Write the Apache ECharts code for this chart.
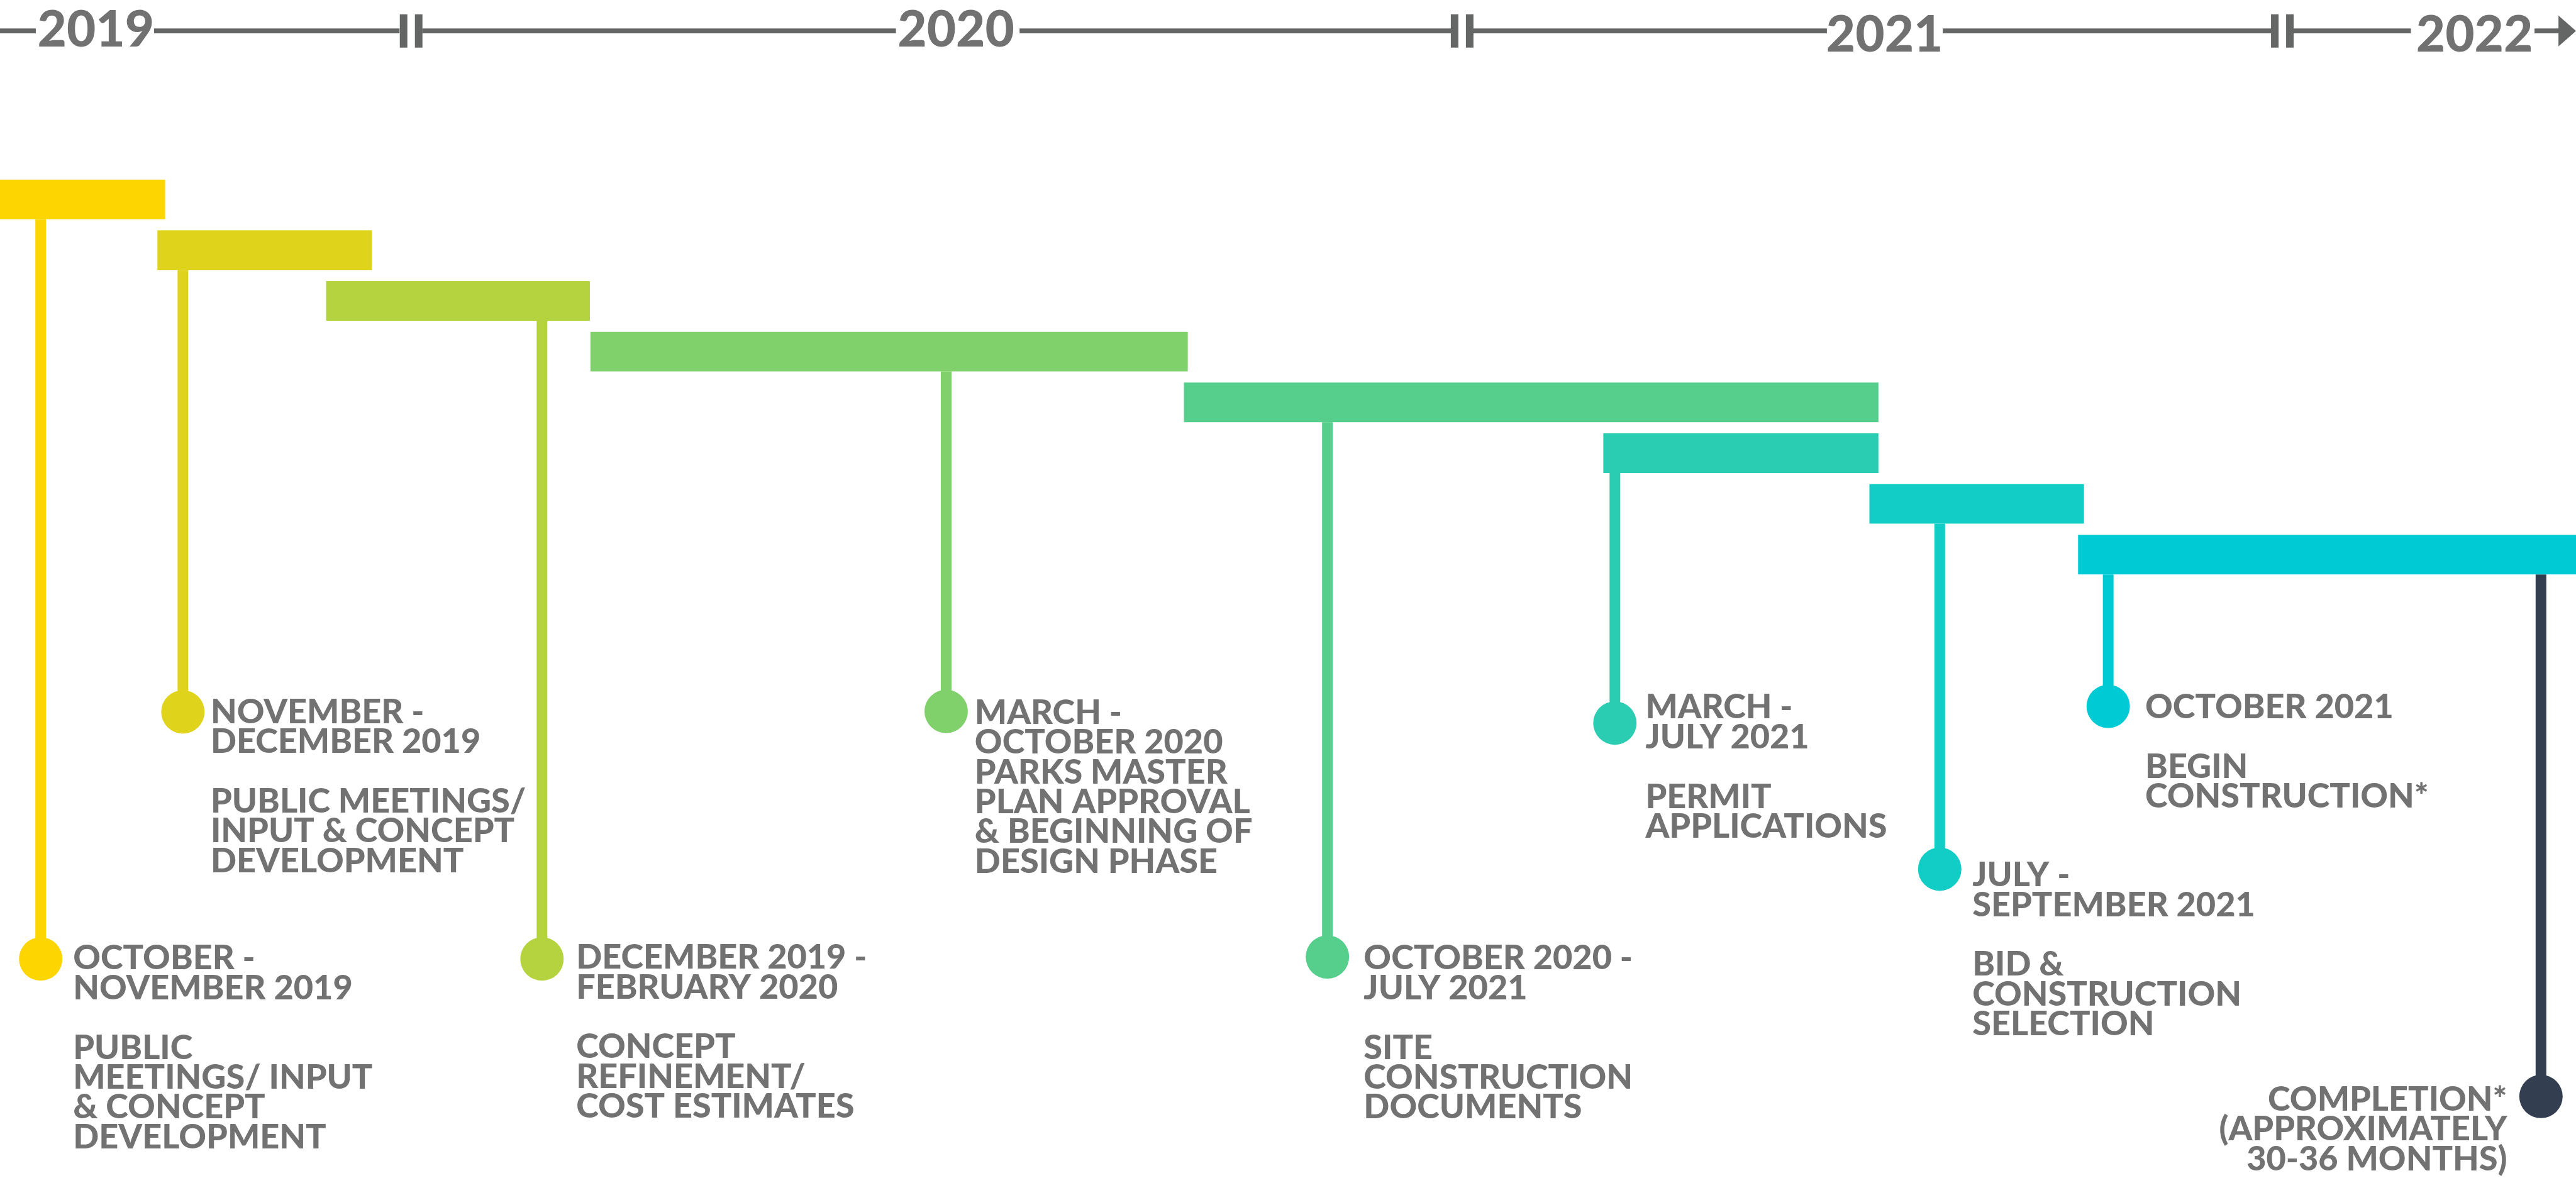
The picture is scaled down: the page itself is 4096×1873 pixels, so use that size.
<!DOCTYPE html>
<html>
<head>
<meta charset="utf-8">
<title>Project timeline</title>
<script src="https://cdn.jsdelivr.net/npm/echarts@6/dist/echarts.min.js"></script>
<style>
  html, body { margin: 0; padding: 0; background: #fff; }
  #chart { width: 4096px; height: 1873px; }
</style>
</head>
<body>
<div id="chart"></div>
<script>
// Schematic timeline: x = % of timeline width, y = bar rows (row 0 = first bar).
const X_MIN = 0, X_MAX = 100;
const Y_MIN = -3.931, Y_MAX = 19.287;

// top axis
const YEARS       = ["2019", "2020", "2021", "2022"];
const YEAR_X      = [3.72, 37.11, 73.16, 96.06];
const YEAR_Y      = [-3.328, -3.328, -3.233, -3.233];
const AXIS_Y      = -3.321;
const AXIS_SEGS   = [[0, 1.39], [5.98, 15.51], [16.39, 34.78], [39.58, 56.35],
                     [57.15, 70.92], [75.42, 88.19], [89.00, 93.59], [98.39, 99.5]];
const AXIS_BREAKS = [15.96, 56.76, 88.60];
const AXIS_ARROW  = [99.32, 100];

// phase bars
const PHASES     = ["Oct-Nov 2019", "Nov-Dec 2019", "Dec 2019-Feb 2020", "Mar-Oct 2020",
                    "Oct 2020-Jul 2021", "Mar-Jul 2021", "Jul-Sep 2021", "Oct 2021-"];
const BAR_START  = [0, 6.11, 12.66, 22.92, 45.96, 62.24, 72.57, 80.67];
const BAR_END    = [6.41, 14.44, 22.90, 46.11, 72.92, 72.92, 80.90, 100];
const BAR_COLORS = ["#FDD500", "#DFD41B", "#B4D33F", "#80D06C", "#56CF8C", "#2BCDB2", "#12CDC5", "#00CAD3"];

// milestone markers hanging from the bars
const MARK_X      = [1.58, 7.10, 21.04, 36.73, 51.53, 62.69, 75.30, 81.84, 98.64];
const MARK_ROW    = [0, 1, 2, 3, 4, 5, 6, 7, 7];
const MARK_DROP   = [14.97, 10.10, 14.97, 10.09, 14.93, 10.32, 13.20, 9.99, 17.68];
const MARK_COLORS = [...BAR_COLORS, "#333F50"];

// milestone texts
const LABELS = [
  "OCTOBER -\nNOVEMBER 2019\n\nPUBLIC\nMEETINGS/ INPUT\n& CONCEPT\nDEVELOPMENT",
  "NOVEMBER -\nDECEMBER 2019\n\nPUBLIC MEETINGS/\nINPUT & CONCEPT\nDEVELOPMENT",
  "DECEMBER 2019 -\nFEBRUARY 2020\n\nCONCEPT\nREFINEMENT/\nCOST ESTIMATES",
  "MARCH -\nOCTOBER 2020\nPARKS MASTER\nPLAN APPROVAL\n& BEGINNING OF\nDESIGN PHASE",
  "OCTOBER 2020 -\nJULY 2021\n\nSITE\nCONSTRUCTION\nDOCUMENTS",
  "MARCH -\nJULY 2021\n\nPERMIT\nAPPLICATIONS",
  "JULY -\nSEPTEMBER 2021\n\nBID &\nCONSTRUCTION\nSELECTION",
  "OCTOBER 2021\n\nBEGIN\nCONSTRUCTION*",
  "COMPLETION*\n(APPROXIMATELY\n30-36 MONTHS)"
];
const LABEL_X     = [2.85, 8.19, 22.38, 37.85, 52.95, 63.89, 76.58, 83.29, 97.34];
const LABEL_Y     = [14.673, 9.816, 14.658, 9.831, 14.673, 9.728, 13.034, 9.721, 17.458];
const LABEL_ALIGN = ["left", "left", "left", "left", "left", "left", "left", "left", "right"];

const BAR_H   = 0.779;   // bar thickness in rows
const STEM_W  = 17;
const DOT     = 69;
const AXIS_W  = 7.7;
const TEXT_C  = "#4f4f4f";
const AXIS_C  = "#646665";
const FONT    = "Lato";

const chart = echarts.init(document.getElementById("chart"), null, { renderer: "canvas" });

function rectAt(api, x0, x1, y, h, fill) {
  const a = api.coord([x0, y]), b = api.coord([x1, y]);
  return { type: "rect", shape: { x: a[0], y: a[1] - h / 2, width: b[0] - a[0], height: h }, style: { fill } };
}

chart.setOption({
  animation: false,
  backgroundColor: "#ffffff",
  grid: { left: 0, right: 0, top: 0, bottom: 0 },
  xAxis: { type: "value", min: X_MIN, max: X_MAX, show: false },
  yAxis: { type: "value", min: Y_MIN, max: Y_MAX, inverse: true, show: false },
  series: [
    // axis line pieces
    {
      type: "custom", silent: true,
      data: AXIS_SEGS,
      renderItem: (params, api) => rectAt(api, api.value(0), api.value(1), AXIS_Y, AXIS_W, AXIS_C),
    },
    // axis break marks ||
    {
      type: "custom", silent: true,
      data: AXIS_BREAKS.map(x => [x]),
      renderItem: (params, api) => {
        const c = api.coord([api.value(0), AXIS_Y]);
        return {
          type: "group",
          children: [-12, 12].map(dx => ({
            type: "rect",
            shape: { x: c[0] + dx - 6, y: c[1] - 26.5, width: 12, height: 53 },
            style: { fill: AXIS_C },
          })),
        };
      },
    },
    // arrow head
    {
      type: "custom", silent: true,
      data: [AXIS_ARROW],
      renderItem: (params, api) => {
        const a = api.coord([api.value(0), AXIS_Y]), b = api.coord([api.value(1), AXIS_Y]);
        return {
          type: "polygon",
          shape: { points: [[a[0], a[1] - 24.5], [b[0], a[1]], [a[0], a[1] + 24.5]] },
          style: { fill: AXIS_C },
        };
      },
    },
    // year labels
    {
      type: "scatter", silent: true, symbolSize: 1,
      itemStyle: { color: "transparent" },
      data: YEARS.map((y, i) => ({ value: [YEAR_X[i], YEAR_Y[i]], name: y })),
      label: {
        show: true, position: "inside", formatter: p => p.name,
        fontFamily: FONT, fontWeight: 900, fontSize: 80, color: "#4d4d4d",
        align: "center", verticalAlign: "middle",
      },
    },
    // stems
    {
      type: "custom", silent: true,
      data: MARK_X.map((x, i) => [x, MARK_ROW[i] + BAR_H / 2, MARK_DROP[i], i]),
      renderItem: (params, api) => {
        const a = api.coord([api.value(0), api.value(1)]);
        const b = api.coord([api.value(0), api.value(2)]);
        return {
          type: "rect",
          shape: { x: a[0] - STEM_W / 2, y: a[1], width: STEM_W, height: b[1] - a[1] },
          style: { fill: MARK_COLORS[api.value(3)] },
        };
      },
    },
    // phase bars
    {
      type: "custom", silent: true,
      data: PHASES.map((p, i) => [BAR_START[i], BAR_END[i], i]),
      renderItem: (params, api) => {
        const h = api.size([0, BAR_H])[1];
        return rectAt(api, api.value(0), api.value(1), api.value(2), h, BAR_COLORS[api.value(2)]);
      },
    },
    // milestone dots
    {
      type: "scatter", silent: true, symbol: "circle", symbolSize: DOT,
      data: MARK_X.map((x, i) => ({ value: [x, MARK_DROP[i]], itemStyle: { color: MARK_COLORS[i], opacity: 1 } })),
    },
    // milestone texts
    {
      type: "scatter", silent: true, symbolSize: 1,
      itemStyle: { color: "transparent" },
      data: LABELS.map((t, i) => ({
        value: [LABEL_X[i], LABEL_Y[i]], name: t,
        label: { align: LABEL_ALIGN[i] },
      })),
      label: {
        show: true, position: [0, 0], formatter: p => p.name,
        fontFamily: FONT, fontWeight: 900, fontSize: 54, lineHeight: 47.4, color: TEXT_C,
        align: "left", verticalAlign: "top",
      },
    },
  ],
});
</script>
</body>
</html>
